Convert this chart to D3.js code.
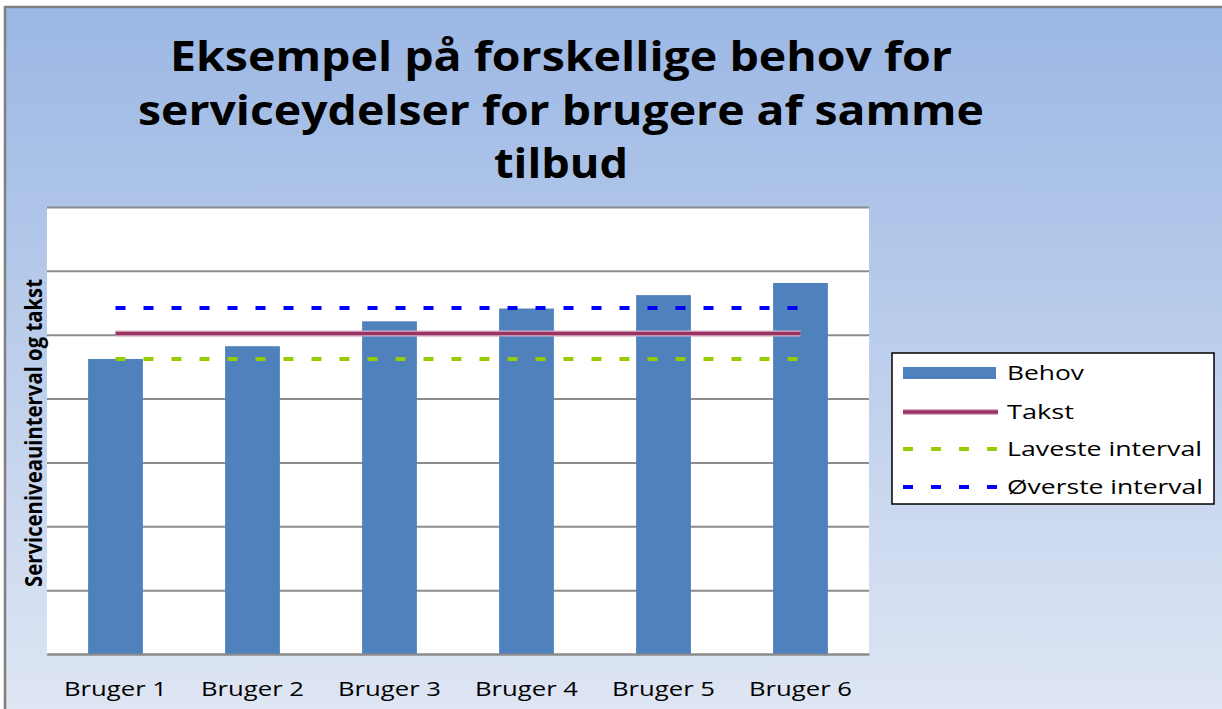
<!DOCTYPE html>
<html>
<head>
<meta charset="utf-8">
<script src="https://cdn.jsdelivr.net/npm/d3@7"></script>
<style>
  body { margin: 0; background: #fff; }
  text { font-family: "Open Sans", "DejaVu Sans", sans-serif; }
</style>
</head>
<body>
<script>
// data
const categories = ["Bruger 1", "Bruger 2", "Bruger 3", "Bruger 4", "Bruger 5", "Bruger 6"];
const behov = [4.62, 4.82, 5.21, 5.41, 5.62, 5.81];
const takst = [5.02, 5.02, 5.02, 5.02, 5.02, 5.02];
const laveste = [4.62, 4.62, 4.62, 4.62, 4.62, 4.62];
const overste = [5.42, 5.42, 5.42, 5.42, 5.42, 5.42];
const yTicks = [0, 1, 2, 3, 4, 5, 6, 7];
const titleLines = ["Eksempel på forskellige behov for", "serviceydelser for brugere af samme", "tilbud"];

const W = 1222, H = 709;
const plot = {left: 47, right: 869, top: 207, bottom: 654};

const svg = d3.select("body").append("svg")
    .attr("width", W)
    .attr("height", H);

// baggrund med gradient
const defs = svg.append("defs");
const grad = defs.append("linearGradient")
    .attr("id", "bg")
    .attr("x1", 0).attr("y1", 0).attr("x2", 0).attr("y2", 1);
grad.append("stop").attr("offset", "0%").attr("stop-color", "rgb(155,183,228)");
grad.append("stop").attr("offset", "100%").attr("stop-color", "rgb(224,231,244)");

svg.append("rect")
    .attr("x", 5).attr("y", 7)
    .attr("width", W + 10).attr("height", H + 10)
    .attr("fill", "url(#bg)")
    .attr("stroke", "#7f7f7f")
    .attr("stroke-width", 2.5);

// titel
const titleWidths = [782, 846, 134];
svg.append("g").selectAll("text")
    .data(titleLines)
    .join("text")
    .attr("x", 561)
    .attr("y", (d, i) => 71 + i * 53.5)
    .attr("text-anchor", "middle")
    .attr("font-size", 42)
    .attr("font-weight", "bold")
    .attr("fill", "#000")
    .attr("textLength", (d, i) => titleWidths[i])
    .attr("lengthAdjust", "spacingAndGlyphs")
    .text(d => d);

// skalaer
const x = d3.scaleBand()
    .domain(categories)
    .range([plot.left, plot.right])
    .paddingInner(0.6)
    .paddingOuter(0.3);

const y = d3.scaleLinear()
    .domain([0, 7])
    .range([plot.bottom, plot.top]);

// plotomraade
svg.append("rect")
    .attr("x", plot.left).attr("y", plot.top)
    .attr("width", plot.right - plot.left)
    .attr("height", plot.bottom - plot.top)
    .attr("fill", "#fff");

// gitterlinjer
svg.append("g")
    .attr("transform", `translate(${plot.left},0)`)
    .call(d3.axisRight(y).tickValues(yTicks).tickSize(plot.right - plot.left).tickFormat(""))
    .call(g => g.select(".domain").remove())
    .call(g => g.selectAll(".tick line").attr("stroke", "#8c8c8c").attr("stroke-width", 2));

// soejler
svg.append("g").selectAll("rect")
    .data(behov)
    .join("rect")
    .attr("x", (d, i) => x(categories[i]))
    .attr("y", d => y(d))
    .attr("width", x.bandwidth())
    .attr("height", d => y(0) - y(d))
    .attr("fill", "#4f81bd");

// linjer
const cx = (d, i) => x(categories[i]) + x.bandwidth() / 2;
const line = d3.line().x(cx).y(d => y(d));

svg.append("path").datum(takst)
    .attr("d", line).attr("fill", "none")
    .attr("stroke", "#dcb3c4").attr("stroke-width", 6);
svg.append("path").datum(takst)
    .attr("d", line).attr("fill", "none")
    .attr("stroke", "#993366").attr("stroke-width", 3.5);
svg.append("path").datum(laveste)
    .attr("d", line).attr("fill", "none")
    .attr("stroke", "#99cc00").attr("stroke-width", 4)
    .attr("stroke-dasharray", "10,18");
svg.append("path").datum(overste)
    .attr("d", line).attr("fill", "none")
    .attr("stroke", "#0000ff").attr("stroke-width", 4)
    .attr("stroke-dasharray", "10,18");

// x-akse
svg.append("g")
    .attr("transform", `translate(0,${plot.bottom})`)
    .call(d3.axisBottom(x).tickSize(0).tickPadding(28))
    .call(g => g.select(".domain").attr("stroke", "#8c8c8c").attr("stroke-width", 2))
    .call(g => g.selectAll(".tick text")
        .attr("font-size", 20)
        .attr("fill", "#000")
        .attr("font-family", "'Open Sans', sans-serif")
        .attr("textLength", 103)
        .attr("lengthAdjust", "spacingAndGlyphs"));

// y-aksetitel
svg.append("text")
    .attr("transform", "translate(42,433) rotate(-90)")
    .attr("text-anchor", "middle")
    .attr("font-size", 24)
    .attr("font-weight", "bold")
    .attr("fill", "#000")
    .attr("textLength", 308)
    .attr("lengthAdjust", "spacingAndGlyphs")
    .text("Serviceniveauinterval og takst");

// forklaring
const legend = svg.append("g");
legend.append("rect")
    .attr("x", 892).attr("y", 353)
    .attr("width", 322).attr("height", 151)
    .attr("fill", "#fff").attr("stroke", "#000").attr("stroke-width", 1.5);

const legendItems = [
    {name: "Behov", y: 373, w: 77},
    {name: "Takst", y: 412, w: 67},
    {name: "Laveste interval", y: 449, w: 195},
    {name: "Øverste interval", y: 487, w: 196}
];
legend.append("rect")
    .attr("x", 903).attr("y", 367).attr("width", 93).attr("height", 12)
    .attr("fill", "#4f81bd");
legend.append("line")
    .attr("x1", 903).attr("x2", 998).attr("y1", 412).attr("y2", 412)
    .attr("stroke", "#dcb3c4").attr("stroke-width", 6);
legend.append("line")
    .attr("x1", 903).attr("x2", 998).attr("y1", 412).attr("y2", 412)
    .attr("stroke", "#993366").attr("stroke-width", 3.5);
legend.append("line")
    .attr("x1", 903).attr("x2", 998).attr("y1", 449).attr("y2", 449)
    .attr("stroke", "#99cc00").attr("stroke-width", 4).attr("stroke-dasharray", "10,18");
legend.append("line")
    .attr("x1", 903).attr("x2", 998).attr("y1", 487).attr("y2", 487)
    .attr("stroke", "#0000ff").attr("stroke-width", 4).attr("stroke-dasharray", "10,18");

legend.selectAll("text.lbl")
    .data(legendItems)
    .join("text")
    .attr("class", "lbl")
    .attr("x", 1007)
    .attr("y", d => d.y + 7)
    .attr("font-size", 20)
    .attr("fill", "#000")
    .attr("textLength", d => d.w)
    .attr("lengthAdjust", "spacingAndGlyphs")
    .text(d => d.name);
</script>
</body>
</html>
